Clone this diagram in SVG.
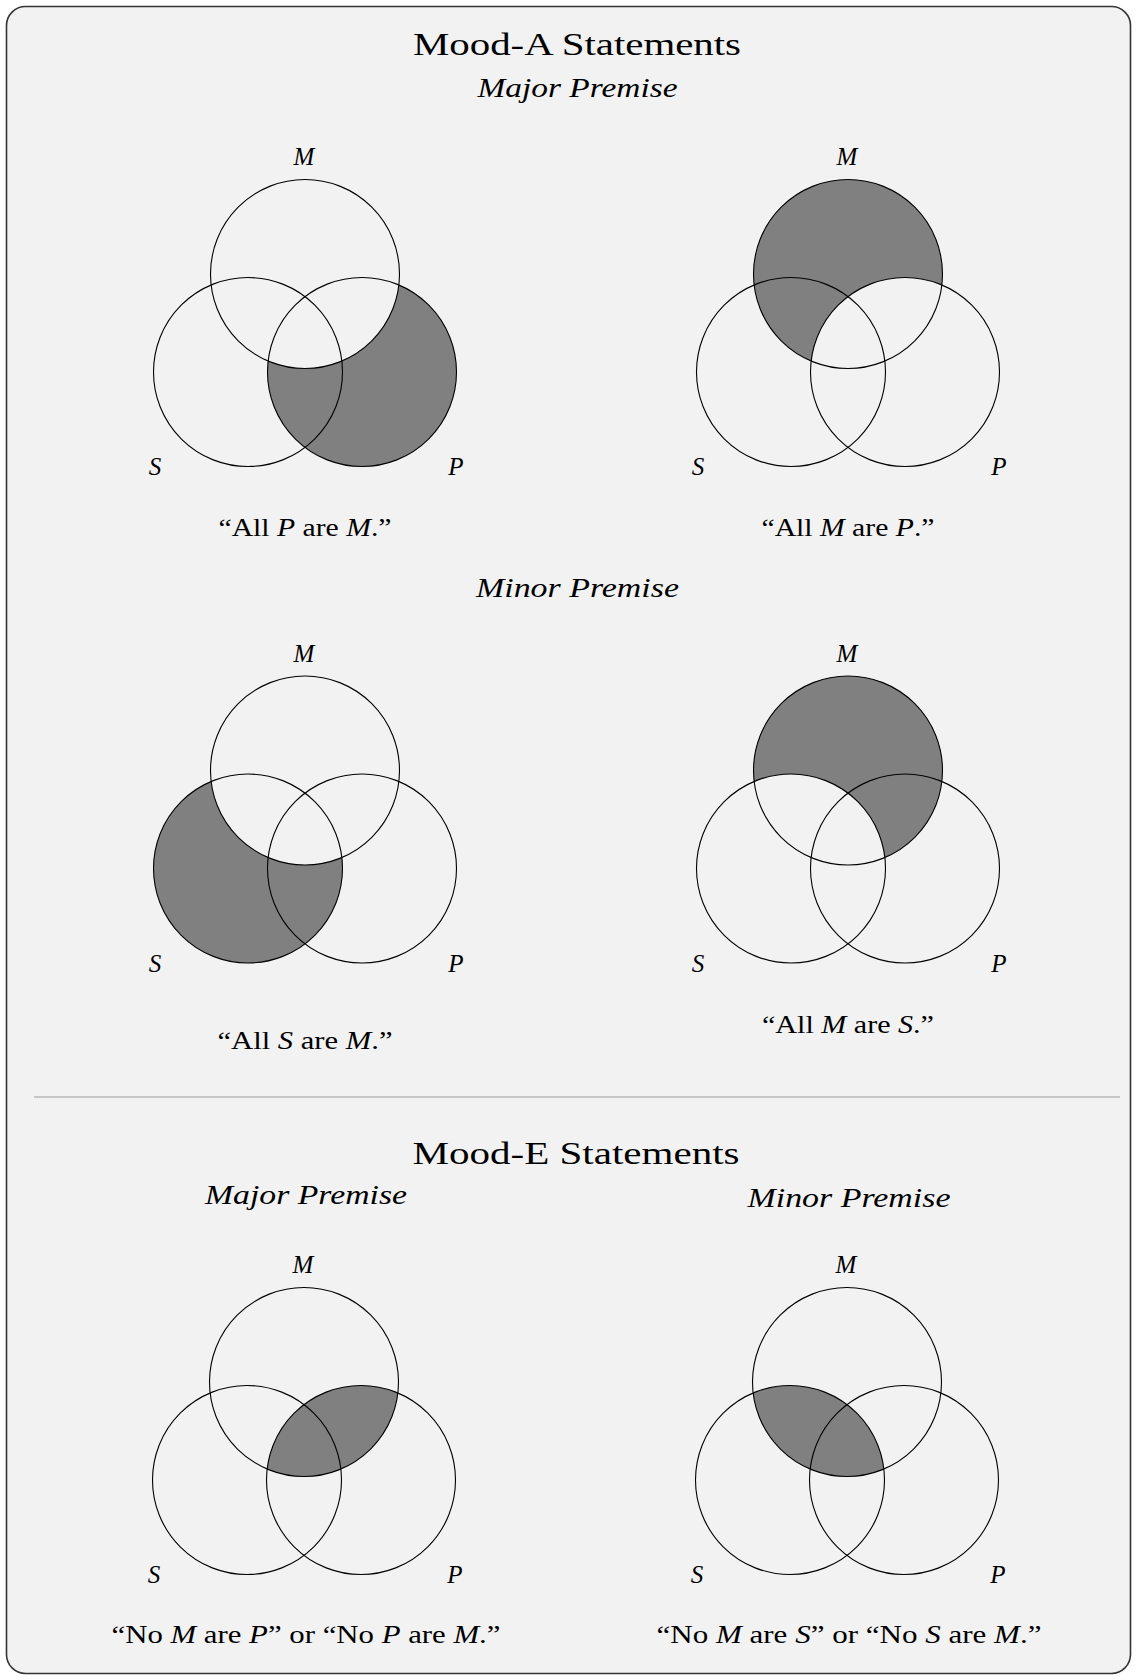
<svg xmlns="http://www.w3.org/2000/svg" width="1137" height="1680" viewBox="0 0 1137 1680">
<style>
.t{font-family:"Liberation Serif","Times New Roman",serif;fill:#000}
.title{font-size:32px;text-anchor:middle}
.sub{font-size:28px;font-style:italic;text-anchor:middle}
.q{font-size:25px;text-anchor:middle}
.i{font-style:italic}
.lbl{font-size:25px;font-style:italic;text-anchor:middle}
.c{fill:none;stroke:#000;stroke-width:1.1}
.sh{fill:#808080}
.bg{fill:#f2f2f2}
</style>
<defs>
<circle id="cM" cx="0" cy="0" r="94.5"/>
<circle id="cS" cx="-57" cy="98" r="94.5"/>
<circle id="cP" cx="57" cy="98" r="94.5"/>
<clipPath id="clipM"><circle cx="0" cy="0" r="94.5"/></clipPath>
</defs>
<rect id="frame" x="6.5" y="6.5" width="1124" height="1667" rx="19" fill="#f2f2f2" stroke="#333" stroke-width="1.6"/>

<text class="t title" x="577" y="55" textLength="328" lengthAdjust="spacingAndGlyphs">Mood-A Statements</text>
<text class="t sub" x="577.5" y="97" textLength="200" lengthAdjust="spacingAndGlyphs">Major Premise</text>

<g id="a-major-left" transform="translate(305,274)">
  <use href="#cP" class="sh"/>
  <use href="#cM" class="bg"/>
  <use href="#cM" class="c"/><use href="#cS" class="c"/><use href="#cP" class="c"/>
  <text class="t lbl" x="-1" y="-109">M</text>
  <text class="t lbl" x="-150" y="201">S</text>
  <text class="t lbl" x="151" y="201">P</text>
</g>
<text class="t q" x="305" y="536" textLength="173" lengthAdjust="spacingAndGlyphs">“All <tspan class="i">P</tspan> are <tspan class="i">M</tspan>.”</text>

<g id="a-major-right" transform="translate(848,274)">
  <use href="#cM" class="sh"/>
  <use href="#cP" class="bg"/>
  <use href="#cM" class="c"/><use href="#cS" class="c"/><use href="#cP" class="c"/>
  <text class="t lbl" x="-1" y="-109">M</text>
  <text class="t lbl" x="-150" y="201">S</text>
  <text class="t lbl" x="151" y="201">P</text>
</g>
<text class="t q" x="848" y="536" textLength="173" lengthAdjust="spacingAndGlyphs">“All <tspan class="i">M</tspan> are <tspan class="i">P</tspan>.”</text>

<text class="t sub" x="577.5" y="597" textLength="203" lengthAdjust="spacingAndGlyphs">Minor Premise</text>

<g id="a-minor-left" transform="translate(305,770.5)">
  <use href="#cS" class="sh"/>
  <use href="#cM" class="bg"/>
  <use href="#cM" class="c"/><use href="#cS" class="c"/><use href="#cP" class="c"/>
  <text class="t lbl" x="-1" y="-109">M</text>
  <text class="t lbl" x="-150" y="201">S</text>
  <text class="t lbl" x="151" y="201">P</text>
</g>
<text class="t q" x="305" y="1049" textLength="175" lengthAdjust="spacingAndGlyphs">“All <tspan class="i">S</tspan> are <tspan class="i">M</tspan>.”</text>

<g id="a-minor-right" transform="translate(848,770.5)">
  <use href="#cM" class="sh"/>
  <use href="#cS" class="bg"/>
  <use href="#cM" class="c"/><use href="#cS" class="c"/><use href="#cP" class="c"/>
  <text class="t lbl" x="-1" y="-109">M</text>
  <text class="t lbl" x="-150" y="201">S</text>
  <text class="t lbl" x="151" y="201">P</text>
</g>
<text class="t q" x="848" y="1033" textLength="172" lengthAdjust="spacingAndGlyphs">“All <tspan class="i">M</tspan> are <tspan class="i">S</tspan>.”</text>

<line id="separator" x1="34" y1="1097" x2="1120" y2="1097" stroke="#999" stroke-width="1.2"/>

<text class="t title" x="576" y="1164" textLength="327" lengthAdjust="spacingAndGlyphs">Mood-E Statements</text>
<text class="t sub" x="306" y="1204" textLength="202" lengthAdjust="spacingAndGlyphs">Major Premise</text>
<text class="t sub" x="849" y="1207" textLength="203" lengthAdjust="spacingAndGlyphs">Minor Premise</text>

<g id="e-major" transform="translate(304,1382)">
  <g clip-path="url(#clipM)"><use href="#cP" class="sh"/></g>
  <use href="#cM" class="c"/><use href="#cS" class="c"/><use href="#cP" class="c"/>
  <text class="t lbl" x="-1" y="-109">M</text>
  <text class="t lbl" x="-150" y="201">S</text>
  <text class="t lbl" x="151" y="201">P</text>
</g>
<text class="t q" x="306" y="1643" textLength="389" lengthAdjust="spacingAndGlyphs">“No <tspan class="i">M</tspan> are <tspan class="i">P</tspan>” or “No <tspan class="i">P</tspan> are <tspan class="i">M</tspan>.”</text>

<g id="e-minor" transform="translate(847,1382)">
  <g clip-path="url(#clipM)"><use href="#cS" class="sh"/></g>
  <use href="#cM" class="c"/><use href="#cS" class="c"/><use href="#cP" class="c"/>
  <text class="t lbl" x="-1" y="-109">M</text>
  <text class="t lbl" x="-150" y="201">S</text>
  <text class="t lbl" x="151" y="201">P</text>
</g>
<text class="t q" x="849" y="1643" textLength="385" lengthAdjust="spacingAndGlyphs">“No <tspan class="i">M</tspan> are <tspan class="i">S</tspan>” or “No <tspan class="i">S</tspan> are <tspan class="i">M</tspan>.”</text>
</svg>
